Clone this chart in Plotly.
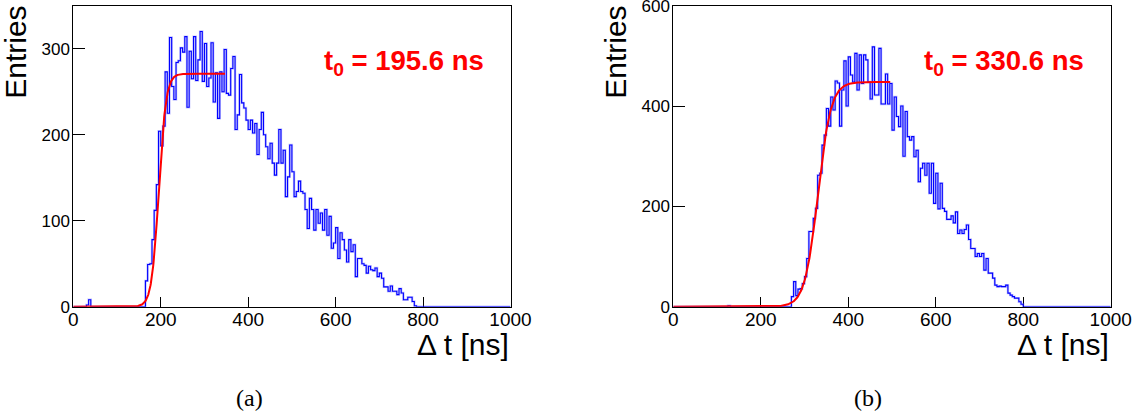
import numpy as np
import plotly.graph_objects as go

# ---------------------------------------------------------------------------
# Drift-time histograms, 5 ns bins over 0 .. 1000 ns
# ---------------------------------------------------------------------------
BIN_WIDTH = 5.0
N_BINS = 200

# panel (a)
a_first_bin_ns = 165
a_counts = [
    30, 49, 50, 78, 112, 142,
    204, 187, 210, 273, 225, 313, 256, 241, 284, 286,
    301, 296, 314, 232, 297, 265, 314, 263, 287, 320,
    262, 306, 256, 266, 307, 238, 272, 219, 273, 250,
    299, 248, 246, 277, 291, 206, 223, 270, 237, 231,
    217, 206, 217, 202, 213, 177, 206, 226, 200, 186,
    172, 190, 167, 153, 167, 206, 167, 182, 128, 151,
    188, 157, 128, 134, 146, 134, 132, 113, 91, 126,
    113, 89, 113, 97, 109, 89, 113, 83, 105, 68,
    74, 92, 56, 86, 78, 66, 52, 78, 64, 72,
    35, 56, 56, 50, 48, 39, 47, 43, 42, 45,
    35, 39, 33, 23, 23, 18, 24, 18, 18, 14,
    21, 16, 8, 8, 11, 11, 6, 1,
]
a_early_bins_ns = [30, 35]
a_early_counts = [2, 8]

# panel (b)
b_first_bin_ns = 270
b_counts = [
    20, 50, 22, 35, 36, 46, 60, 96, 150, 150,
    176, 196, 262, 266, 322, 342, 395, 360, 418, 392,
    450, 446, 360, 432, 490, 400, 498, 462, 448, 505,
    432, 502, 445, 502, 492, 448, 414, 518, 422, 422,
    515, 404, 404, 464, 404, 445, 352, 418, 379, 359,
    400, 300, 389, 339, 332, 339, 299, 312, 249, 276,
    286, 262, 286, 226, 286, 206, 266, 195, 246, 196,
    190, 174, 174, 181, 167, 189, 146, 153, 146, 154,
    163, 134, 116, 116, 100, 106, 100, 106, 73, 96,
    67, 67, 57, 43, 40, 41, 40, 40, 43, 27,
    23, 20, 17, 17, 10, 5,
]
b_early_bins_ns = [125]
b_early_counts = [2]

# Fermi-function fits of the leading edge
a_t0, a_rise, a_plateau, a_fit_end = 195.6, 8.3, 271.0, 347.0
b_t0, b_rise, b_plateau, b_fit_end = 330.6, 15.0, 448.0, 496.0

x_ticks = [0, 200, 400, 600, 800, 1000]
a_y_ticks = [0, 100, 200, 300]
b_y_ticks = [0, 200, 400, 600]
a_y_max = 350
b_y_max = 600

# ---------------------------------------------------------------------------
W, H = 1142, 416
SANS = "Liberation Sans, Arial, Helvetica, sans-serif"
SERIF = "Liberation Serif, Times New Roman, serif"
BLUE = "#0000ff"
RED = "#ff0000"


def full_histogram(first_bin_ns, counts, early_bins, early_counts):
    h = np.zeros(N_BINS)
    i0 = int(round(first_bin_ns / BIN_WIDTH))
    h[i0:i0 + len(counts)] = counts
    for b, c in zip(early_bins, early_counts):
        h[int(round(b / BIN_WIDTH))] = c
    return h


def step_xy(h):
    edges = np.arange(N_BINS + 1) * BIN_WIDTH
    return edges, np.append(h, h[-1])


def fermi(t, t0, rise, plateau):
    return plateau / (1.0 + np.exp(-(t - t0) / rise))


def px_x(p):
    return p / W


def px_y(p):
    return 1.0 - p / H


fig = go.Figure()

panels = [
    dict(h=full_histogram(a_first_bin_ns, a_counts, a_early_bins_ns, a_early_counts),
         t0=a_t0, rise=a_rise, plateau=a_plateau, fit_end=a_fit_end,
         xa="x", ya="y"),
    dict(h=full_histogram(b_first_bin_ns, b_counts, b_early_bins_ns, b_early_counts),
         t0=b_t0, rise=b_rise, plateau=b_plateau, fit_end=b_fit_end,
         xa="x2", ya="y2"),
]

for p in panels:
    ex, ey = step_xy(p["h"])
    # soft halo that blends neighbouring bin edges
    fig.add_trace(go.Scatter(x=ex, y=ey, mode="lines", line_shape="hv",
                             line=dict(color="rgba(90,90,255,0.35)", width=2.4),
                             xaxis=p["xa"], yaxis=p["ya"], hoverinfo="skip",
                             showlegend=False))
    fig.add_trace(go.Scatter(x=ex, y=ey, mode="lines", line_shape="hv",
                             line=dict(color=BLUE, width=1.1),
                             xaxis=p["xa"], yaxis=p["ya"], showlegend=False))
    tf = np.linspace(0.0, p["fit_end"], 500)
    fig.add_trace(go.Scatter(x=tf, y=fermi(tf, p["t0"], p["rise"], p["plateau"]),
                             mode="lines", line=dict(color=RED, width=2),
                             xaxis=p["xa"], yaxis=p["ya"], showlegend=False))

y_dom = [px_y(306.7), px_y(5.7)]


def xaxis(domain):
    return dict(domain=domain, range=[0, 1000], tickvals=x_ticks,
                ticks="inside", ticklen=10, tickwidth=1, tickcolor="black",
                showline=True, linecolor="black", linewidth=1, mirror=True,
                showgrid=False, zeroline=False, layer="below traces",
                automargin=False, ticklabeloverflow="allow",
                tickfont=dict(family=SANS, size=19, color="black"),
                ticklabelstandoff=-5)


def yaxis(anchor, ymax, ticks):
    return dict(domain=y_dom, anchor=anchor, range=[0, ymax], tickvals=ticks,
                ticks="inside", ticklen=12, tickwidth=1, tickcolor="black",
                showline=True, linecolor="black", linewidth=1, mirror=True,
                showgrid=False, zeroline=False, layer="below traces",
                automargin=False, ticklabeloverflow="allow",
                tickfont=dict(family=SANS, size=17, color="black"),
                ticklabelstandoff=-1)


fig.update_layout(
    width=W, height=H,
    margin=dict(l=0, r=0, t=0, b=0),
    paper_bgcolor="white", plot_bgcolor="white",
    xaxis=xaxis([px_x(73.3), px_x(510.5)]),
    yaxis=yaxis("x", a_y_max, a_y_ticks),
    xaxis2=dict(xaxis([px_x(673.3), px_x(1110.7)]), anchor="y2"),
    yaxis2=yaxis("x2", b_y_max, b_y_ticks),
)

annotations = []
for x_left, x_right, t0, cap, cap_x in [(73.3, 510.5, a_t0, "(a)", 249),
                                        (673.3, 1110.7, b_t0, "(b)", 868)]:
    annotations.append(dict(text="Entries", textangle=-90,
                            x=px_x(x_left - 58), y=px_y(52.5),
                            xref="paper", yref="paper", xanchor="center",
                            yanchor="middle", showarrow=False,
                            font=dict(family=SANS, size=30, color="black")))
    annotations.append(dict(text="\u0394 t [ns]", x=px_x(x_right), y=px_y(344),
                            xref="paper", yref="paper", xanchor="right",
                            yanchor="middle", showarrow=False,
                            font=dict(family=SANS, size=30, color="black")))
    annotations.append(dict(text=f"<b>t<sub>0</sub> = {t0:.1f} ns</b>",
                            x=px_x(x_left + 249), y=px_y(62),
                            xref="paper", yref="paper", xanchor="left",
                            yanchor="middle", showarrow=False,
                            font=dict(family=SANS, size=27.5, color=RED)))
    annotations.append(dict(text=cap, x=px_x(cap_x), y=px_y(398),
                            xref="paper", yref="paper", xanchor="center",
                            yanchor="middle", showarrow=False,
                            font=dict(family=SERIF, size=24, color="black")))
fig.update_layout(annotations=annotations)

fig.write_html("out.html")
